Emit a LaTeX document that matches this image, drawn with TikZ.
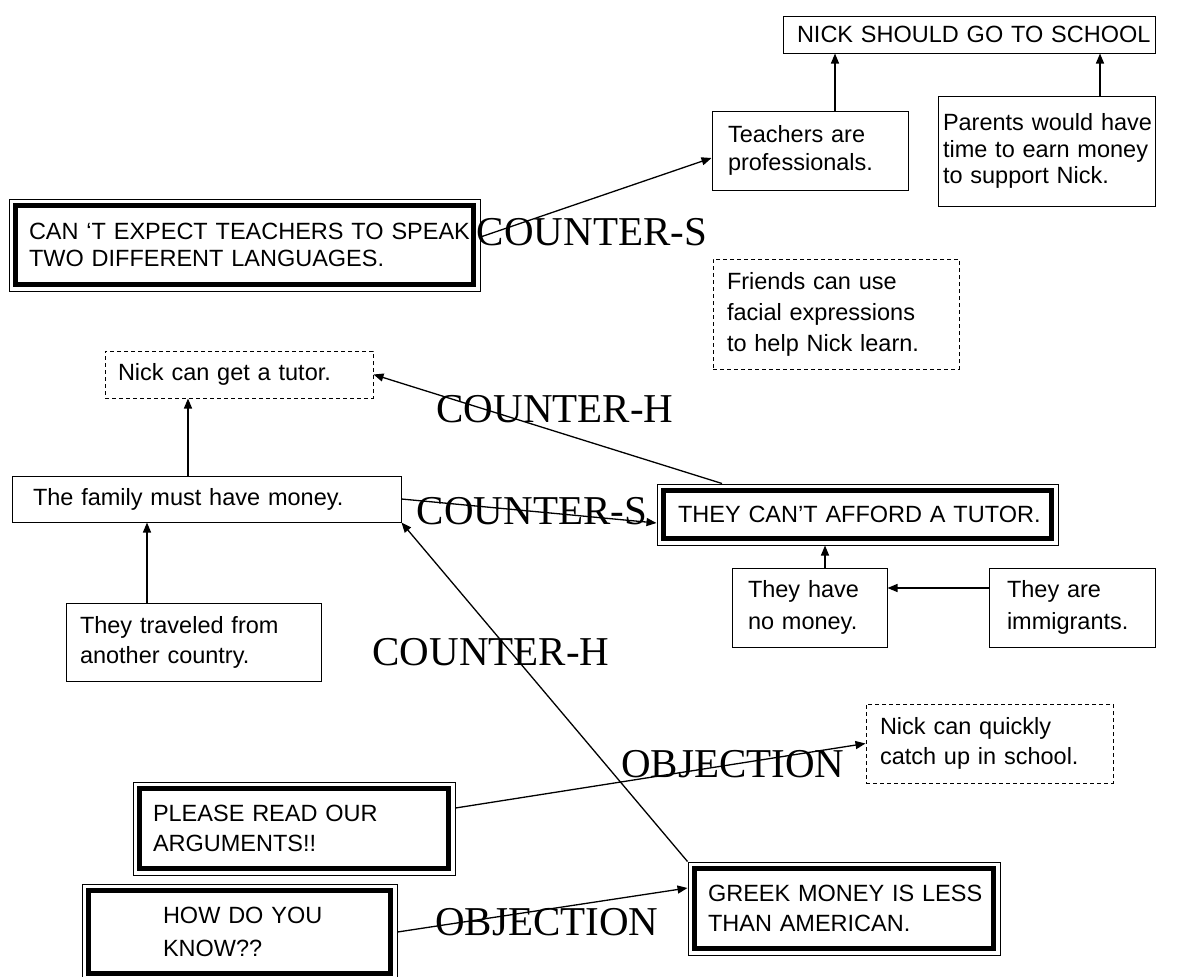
\documentclass[tikz,border=0pt]{standalone}
\usepackage{fontspec}
\setmainfont{Liberation Sans}
\newfontfamily\tnr{Liberation Serif}
\usetikzlibrary{arrows.meta}
\tikzset{
  bx/.style={draw, line width=1pt, inner sep=0pt, align=left, anchor=center,
    font=\fontsize{23.5}{28}\selectfont},
  dsh/.style={bx, dash pattern=on 4pt off 3pt},
  dbl/.style={bx, path picture={\draw[line width=5pt]
    ([shift={(6.5pt,-6.5pt)}]path picture bounding box.north west) rectangle
    ([shift={(-6.5pt,6.5pt)}]path picture bounding box.south east);}},
  lbl/.style={font=\tnr\fontsize{41}{41}\selectfont, inner sep=0pt, anchor=center},
  arr/.style={line width=1.3pt, -{Triangle[length=10pt,width=8pt]}},
}
\begin{document}
\begin{tikzpicture}[x=1pt,y=-1pt]
\useasboundingbox (0,0) rectangle (1192,977);

% boxes
\node[bx, minimum width=372pt, minimum height=37pt, text width=344pt] (nick) at (969,34.5) {\mbox{NICK SHOULD GO TO SCHOOL}};
\node[bx, minimum width=196pt, minimum height=79pt, text width=164pt] (teach) at (810,150.5) {Teachers are\\professionals.};
\node[bx, minimum width=217pt, minimum height=110pt, text width=207pt, font=\fontsize{23.5}{26.5}\selectfont] (parents) at (1046.5,151) {\mbox{Parents would have}\\time to earn money\\to support Nick.};
\node[dbl, minimum width=471pt, minimum height=92pt, text width=431pt, font=\fontsize{23.5}{27}\selectfont] (cant) at (244.5,245) {\mbox{CAN ‘T EXPECT TEACHERS TO SPEAK}\\TWO DIFFERENT LANGUAGES.};
\node[dsh, minimum width=246pt, minimum height=110pt, text width=218pt, font=\fontsize{23.5}{31}\selectfont] (friends) at (836,314) {Friends can use\\facial expressions\\to help Nick learn.};
\node[dsh, minimum width=268pt, minimum height=47pt, text width=242pt] (tutor) at (239,374.5) {Nick can get a tutor.};
\node[bx, minimum width=389pt, minimum height=46pt, text width=347pt] (family) at (206.5,499) {The family must have money.};
\node[dbl, minimum width=401pt, minimum height=61pt, text width=359pt] (they) at (857.5,514.5) {\mbox{THEY CAN’T AFFORD A TUTOR.}};
\node[bx, minimum width=155pt, minimum height=79pt, text width=123pt, font=\fontsize{23.5}{32}\selectfont] (nomoney) at (809.5,607.5) {They have\\no money.};
\node[bx, minimum width=166pt, minimum height=79pt, text width=130pt, font=\fontsize{23.5}{32}\selectfont] (immig) at (1072,607.5) {They are\\immigrants.};
\node[bx, minimum width=255pt, minimum height=78pt, text width=227pt, font=\fontsize{23.5}{30}\selectfont] (travel) at (193.5,642) {They traveled from\\another country.};
\node[dsh, minimum width=247pt, minimum height=79pt, text width=219pt, font=\fontsize{23.5}{30}\selectfont] (catch) at (989.5,743.5) {Nick can quickly\\catch up in school.};
\node[dbl, minimum width=322pt, minimum height=93pt, text width=282pt, font=\fontsize{23.5}{30}\selectfont] (please) at (294,828.5) {PLEASE READ OUR\\ARGUMENTS!!};
\node[dbl, minimum width=312pt, minimum height=93pt, text width=272pt, font=\fontsize{23.5}{30}\selectfont] (greek) at (844,908.5) {\mbox{GREEK MONEY IS LESS}\\THAN AMERICAN.};
\node[dbl, minimum width=315pt, minimum height=96pt, text width=153pt, font=\fontsize{23.5}{33}\selectfont] (how) at (239.5,932) {\mbox{HOW DO YOU}\\KNOW??};

% labels
\node[lbl] (ls1) at (592,232) {COUNTER-S};
\node[lbl] (lh1) at (555,409) {COUNTER-H};
\node[lbl] (ls2) at (532,511) {COUNTER-S};
\node[lbl] (lh2) at (491,652) {COUNTER-H};
\node[lbl] (lo1) at (733,764) {OBJECTION};
\node[lbl] (lo2) at (547,922) {OBJECTION};

% helper coordinates
\coordinate (c1) at ([xshift=25pt]teach.north);
\coordinate (c2) at ([xshift=53.5pt]parents.north);
\coordinate (c3) at ([xshift=-18.5pt]family.north);
\coordinate (c4) at ([xshift=-46.5pt]travel.north);
\coordinate (c5) at ([xshift=15.5pt]nomoney.north);
\coordinate (c6) at ([yshift=19.5pt]immig.west);

% connectors
\draw[arr] ([yshift=8pt]cant.east) -- ([yshift=-7.5pt]teach.west);
\draw[arr] (c1) -- (c1 |- nick.south);
\draw[arr] (c2) -- (c2 |- nick.south);
\draw[arr] (c3) -- (c3 |- tutor.south);
\draw[arr] (c4) -- (c4 |- family.south);
\draw[arr] ([xshift=-135.5pt]they.north) -- (tutor.east);
\draw[arr] (family.east) -- ([yshift=-8.5pt]they.west);
\draw[arr] (greek.north west) -- (family.south east);
\draw[arr] (c5) -- (c5 |- they.south);
\draw[arr] (c6) -- (c6 -| nomoney.east);
\draw[arr] ([yshift=20.5pt]please.east) -- (catch.west);
\draw[arr] (how.east) -- ([yshift=20.5pt]greek.west);
\end{tikzpicture}
\end{document}
